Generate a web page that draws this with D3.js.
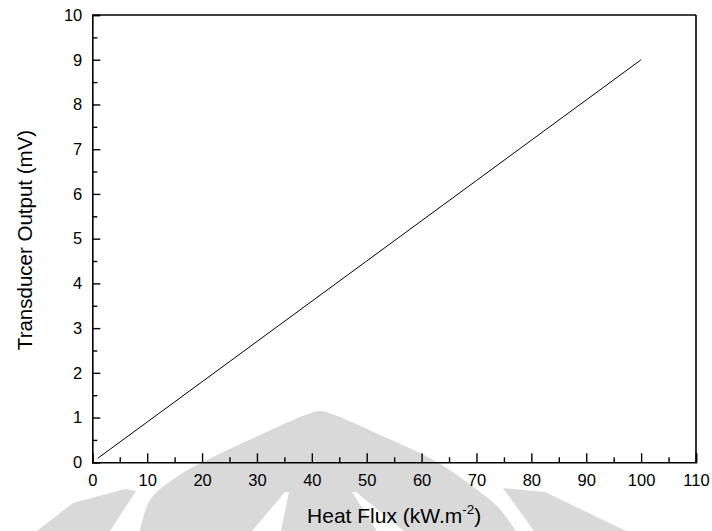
<!DOCTYPE html>
<html>
<head>
<meta charset="utf-8">
<script src="https://cdn.jsdelivr.net/npm/d3@7"></script>
<style>
  body { margin: 0; background: #fff; }
  svg { display: block; }
  text { font-family: "Liberation Sans", Arial, sans-serif; fill: #000; }
</style>
</head>
<body>
<div id="chart"></div>
<script>
// calibration line
var heatFlux = [1, 10, 20, 30, 40, 50, 60, 70, 80, 90, 100];
var output = [0.09, 0.9, 1.8, 2.7, 3.6, 4.5, 5.4, 6.3, 7.2, 8.1, 9.0];

var xMajor = [0, 10, 20, 30, 40, 50, 60, 70, 80, 90, 100, 110];
var xMinor = [5, 15, 25, 35, 45, 55, 65, 75, 85, 95, 105];
var yMajor = [0, 1, 2, 3, 4, 5, 6, 7, 8, 9, 10];
var yMinor = [0.5, 1.5, 2.5, 3.5, 4.5, 5.5, 6.5, 7.5, 8.5, 9.5];

var width = 712,
    height = 531;

var svg = d3.select("#chart")
    .append("svg")
    .attr("width", width)
    .attr("height", height);

// faint watermark behind the plot
var wm = svg.append("g").attr("fill", "#d9d9d9");
var smooth = d3.line().curve(d3.curveCatmullRom);
wm.append("path")
    .attr("d", smooth([[140, 531], [150, 500], [175, 478], [205, 461], [262, 434], [308, 414], [320, 411],
                       [332, 414], [378, 434], [437, 462], [472, 486], [498, 507], [516, 531]]) + "Z");
wm.append("path")
    .attr("d", "M37,531L73,503L125,489L136,491L110,531Z");
wm.append("path")
    .attr("d", "M503,488L545,492L626,531L534,531Z");
wm.append("path").attr("fill", "#fff")
    .attr("d", "M285,492L289,492L281,531L252,531Z");
wm.append("path").attr("fill", "#fff")
    .attr("d", "M352,492L356,492L404,531L377,531Z");

var x = d3.scaleLinear()
    .domain([0, 110])
    .range([92.3, 696]);

var y = d3.scaleLinear()
    .domain([0, 10])
    .range([462.3, 15]);

// frame top and right
svg.append("line")
    .attr("x1", x(0)).attr("x2", x(110))
    .attr("y1", y(10)).attr("y2", y(10))
    .attr("stroke", "#000").attr("stroke-width", 1.6);
svg.append("line")
    .attr("x1", x(110)).attr("x2", x(110))
    .attr("y1", y(0)).attr("y2", y(10))
    .attr("stroke", "#000").attr("stroke-width", 1.6);

// x axis, ticks pointing in
svg.append("g")
    .attr("transform", "translate(0," + y(0) + ")")
    .call(d3.axisBottom(x).tickValues(xMajor).tickSize(-9).tickPadding(12).tickFormat(d3.format("d")));
svg.append("g")
    .attr("transform", "translate(0," + y(0) + ")")
    .call(d3.axisBottom(x).tickValues(xMinor).tickSize(-5).tickFormat(""))
    .select(".domain").remove();

// y axis
svg.append("g")
    .attr("transform", "translate(" + x(0) + ",0)")
    .call(d3.axisLeft(y).tickValues(yMajor).tickSize(-8).tickPadding(10).tickFormat(d3.format("d")));
svg.append("g")
    .attr("transform", "translate(" + x(0) + ",0)")
    .call(d3.axisLeft(y).tickValues(yMinor).tickSize(-5).tickFormat(""))
    .select(".domain").remove();

svg.selectAll(".domain").attr("stroke-width", 1.6);
svg.selectAll(".tick line").attr("stroke-width", 1.4);
svg.selectAll(".tick text")
    .style("font-family", "'Liberation Sans', Arial, sans-serif")
    .style("font-size", "16.5px");

// the data line
var line = d3.line()
    .x(function (d, i) { return x(heatFlux[i]); })
    .y(function (d) { return y(d); });

svg.append("path")
    .datum(output)
    .attr("fill", "none")
    .attr("stroke", "#000")
    .attr("stroke-width", 1)
    .attr("d", line);

// axis titles
var xt = svg.append("text")
    .attr("x", (x(0) + x(110)) / 2)
    .attr("y", 523)
    .attr("text-anchor", "middle")
    .style("font-size", "21px");
xt.append("tspan").text("Heat Flux (kW.m");
xt.append("tspan").attr("dy", -9).style("font-size", "13.5px").text("-2");
xt.append("tspan").attr("dy", 9).text(")");

svg.append("text")
    .attr("transform", "translate(32,240) rotate(-90)")
    .attr("text-anchor", "middle")
    .style("font-size", "20.5px")
    .text("Transducer Output (mV)");
</script>
</body>
</html>
